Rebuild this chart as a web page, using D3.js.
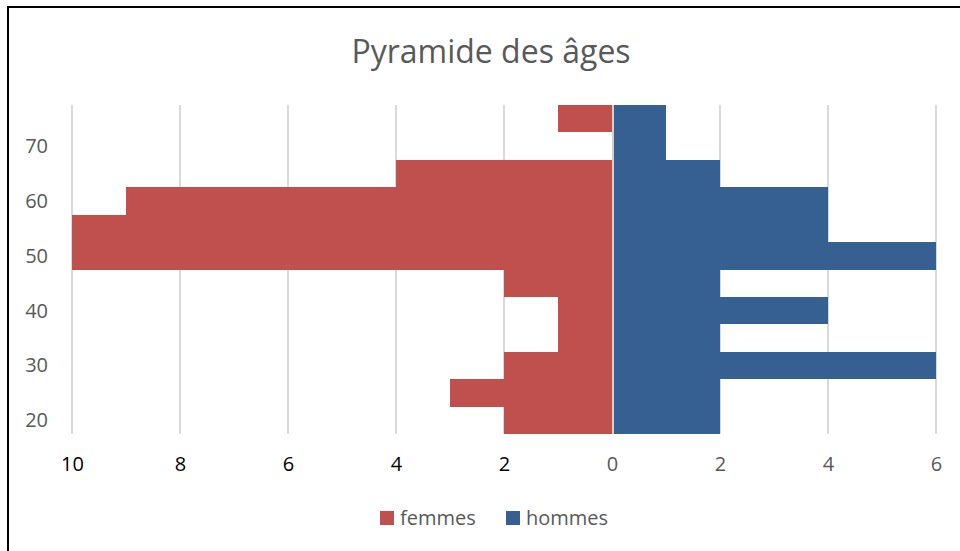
<!DOCTYPE html>
<meta charset="utf-8">
<style>
    body { margin: 0; background: #fff; }
    text { font-family: "Open Sans", "Noto Sans", sans-serif; }
</style>
<body>
<script src="https://cdn.jsdelivr.net/npm/d3@7"></script>
<script>

// age groups (centre of each 5-year bin), top to bottom
var ages = [75, 70, 65, 60, 55, 50, 45, 40, 35, 30, 25, 20];
var femmes = [1, 0, 4, 9, 10, 10, 2, 1, 1, 2, 3, 2];
var hommes = [1, 1, 2, 4, 4, 6, 2, 4, 2, 6, 2, 2];
var yTicks = [20, 30, 40, 50, 60, 70];
var xTicks = [-10, -8, -6, -4, -2, 0, 2, 4, 6];
var seriesNames = ['femmes', 'hommes'];

var width = 960, height = 551;
var red = '#c0504d', blue = '#366092';

var svg = d3.select('body').append('svg')
    .attr('width', width)
    .attr('height', height);

// outer frame (right/bottom edges fall off the page)
svg.append('rect')
    .attr('x', 8).attr('y', 7)
    .attr('width', 980).attr('height', 580)
    .attr('fill', 'none')
    .attr('stroke', '#000')
    .attr('stroke-width', 2);

var x = d3.scaleLinear().domain([-10, 6]).range([72, 936]);
var y = d3.scaleLinear().domain([17.5, 77.5]).range([434, 105]);

// gridlines
svg.append('g')
    .selectAll('line')
    .data(xTicks.filter(function(d) { return d != 0; }))
    .enter().append('line')
    .attr('x1', function(d) { return x(d); })
    .attr('x2', function(d) { return x(d); })
    .attr('y1', y(77.5))
    .attr('y2', y(17.5))
    .attr('stroke', '#d9d9d9')
    .attr('stroke-width', 2);

// bars
var rows = ages.map(function(a, i) {
    return {age: a, f: femmes[i], h: hommes[i]};
});

function barTop(d) { return Math.round(y(d.age + 2.5)); }
function barH(d) { return Math.round(y(d.age - 2.5)) - Math.round(y(d.age + 2.5)); }

svg.append('g').selectAll('rect')
    .data(rows.filter(function(d) { return d.f > 0; }))
    .enter().append('rect')
    .attr('x', function(d) { return x(-d.f); })
    .attr('y', barTop)
    .attr('width', function(d) { return x(0) - x(-d.f); })
    .attr('height', barH)
    .attr('shape-rendering', 'crispEdges')
    .attr('fill', red);

svg.append('g').selectAll('rect')
    .data(rows)
    .enter().append('rect')
    .attr('x', x(0))
    .attr('y', barTop)
    .attr('width', function(d) { return x(d.h) - x(0); })
    .attr('height', barH)
    .attr('shape-rendering', 'crispEdges')
    .attr('fill', blue);

// zero axis line
svg.append('line')
    .attr('x1', x(0) + 1).attr('x2', x(0) + 1)
    .attr('y1', y(77.5)).attr('y2', y(17.5))
    .attr('stroke', '#d0d0d0')
    .attr('stroke-width', 2);

// x axis labels
var xAxis = svg.append('g')
    .attr('transform', 'translate(0,' + 454 + ')')
    .call(d3.axisBottom(x).tickValues(xTicks).tickSize(0)
        .tickFormat(function(d) { return Math.abs(d); }));
xAxis.select('.domain').remove();
xAxis.selectAll('text')
    .style('font-size', '20px')
    .style('font-family', '"Open Sans", sans-serif')
    .attr('fill', function(d) { return d < 0 ? '#000' : '#595959'; });

// y axis labels
var yAxis = svg.append('g')
    .attr('transform', 'translate(51,0)')
    .call(d3.axisLeft(y).tickValues(yTicks).tickSize(0));
yAxis.select('.domain').remove();
yAxis.selectAll('text')
    .style('font-size', '20px')
    .style('font-family', '"Open Sans", sans-serif')
    .attr('fill', '#595959');

// title
svg.append('text')
    .attr('x', 491)
    .attr('y', 63)
    .attr('text-anchor', 'middle')
    .style('font-size', '32px')
    .attr('fill', '#595959')
    .text('Pyramide des âges');

// legend
var legend = svg.append('g').attr('transform', 'translate(380,511)');
var legendX = [0, 126];
seriesNames.forEach(function(name, i) {
    legend.append('rect')
        .attr('x', legendX[i]).attr('y', 0)
        .attr('width', 14).attr('height', 14)
        .attr('fill', i == 0 ? red : blue);
    legend.append('text')
        .attr('x', legendX[i] + 20)
        .attr('y', 14)
        .style('font-size', '20px')
        .attr('fill', '#595959')
        .text(name);
});

</script>
</body>
